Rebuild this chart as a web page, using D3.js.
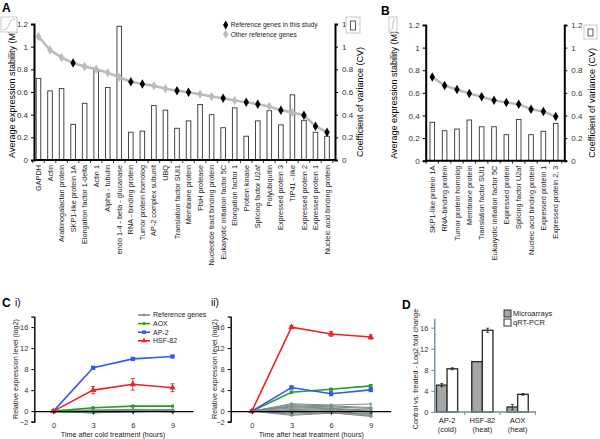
<!DOCTYPE html>
<html>
<head>
<meta charset="utf-8">
<script src="https://cdn.jsdelivr.net/npm/d3@7"></script>
<style>
body { margin: 0; background: #fff; }
text { font-family: "Liberation Sans", Arial, sans-serif; }
</style>
</head>
<body>
<svg id="fig" width="600" height="439"></svg>
<script>
// ---- panel A data
var genesA = ["GAPDH", "Actin", "Arabinogalactan protein", "SKP1-like protein 1A", "Elongation factor 1-delta",
  "Actin 1", "Alpha - tubulin", "endo 1-4 - beta - glucanase", "RNA - binding protein", "Tumor protein homolog",
  "AP-2 complex subunit", "UBQ", "Translation factor SUI1", "Membrane protein", "FtsH protease",
  "Nucleotide tract binding protein", "Eukaryotic initiation factor 5C", "Elongation factor 1", "Protein kinase",
  "Splicing factor U2af", "Polyubiquitin", "Expressed protein 3", "TIP41 - like", "Expressed protein 2",
  "Expressed protein 1", "Nucleic acid binding protein"];
var stabA = [1.09, 0.97, 0.905, 0.855, 0.825, 0.8, 0.77, 0.73, 0.69, 0.67, 0.655, 0.628, 0.612, 0.598, 0.58,
  0.56, 0.545, 0.525, 0.51, 0.492, 0.472, 0.44, 0.42, 0.395, 0.298, 0.245];
var cvA = [0.72, 0.61, 0.63, 0.315, 0.5, 0.8, 0.64, 1.18, 0.245, 0.255, 0.48, 0.44, 0.28, 0.345, 0.49,
  0.4, 0.285, 0.46, 0.21, 0.345, 0.435, 0.31, 0.575, 0.35, 0.245, 0.21];
var inStudyA = [0, 0, 0, 1, 0, 0, 0, 0, 1, 1, 0, 0, 1, 1, 0, 0, 1, 0, 1, 1, 0, 1, 0, 1, 1, 1];

// ---- panel B data
var genesB = ["SKP1-like protein 1A", "RNA-binding protein", "Tumor protein homolog", "Membrane protein",
  "Translation factor SUI1", "Eukaryotic initiation factor 5C", "Expressed protein", "Splicing factor U2af",
  "Nucleic acid binding protein", "Expressed protein 1", "Expressed protein 2, 3"];
var stabB = [0.74, 0.665, 0.63, 0.595, 0.565, 0.535, 0.515, 0.5, 0.455, 0.435, 0.39];
var cvB = [0.34, 0.265, 0.28, 0.36, 0.3, 0.3, 0.23, 0.365, 0.23, 0.26, 0.33];

var stabTicks = [0, 0.2, 0.4, 0.6, 0.8, 1, 1.2];

// ---- panel C data
var hours = [0, 3, 6, 9];
var coldAOX = [0, 0.63, 0.95, 0.95], coldAOXerr = [0, 0.12, 0.12, 0.12];
var coldAP2 = [0, 8.25, 9.95, 10.4], coldAP2err = [0, 0.2, 0.25, 0.2];
var coldHSF = [0, 4.0, 5.1, 4.45], coldHSFerr = [0, 0.7, 1.1, 0.75];
var heatAOX = [0, 3.6, 4.15, 4.8], heatAOXerr = [0, 0.2, 0.2, 0.25];
var heatAP2 = [0, 4.5, 3.3, 4.05], heatAP2err = [0, 0.3, 0.4, 0.35];
var heatHSF = [0, 16.0, 14.7, 14.1], heatHSFerr = [0, 0.3, 0.45, 0.4];
var coldRef = [
  [0, -0.2, 0.1, 0.1], [0, -0.1, 0.2, 0.2], [0, -0.3, 0.0, 0.0], [0, 0.1, 0.3, 0.2],
  [0, -0.2, -0.1, 0.1], [0, 0.0, 0.1, -0.1], [0, -0.15, 0.2, 0.25], [0, 0.05, 0.0, 0.05],
  [0, -0.25, 0.15, -0.05], [0, 0.15, 0.25, 0.15], [0, -0.05, -0.05, 0.0]];
var heatRef = [
  [0, 1.4, 1.15, 1.35], [0, 1.2, 1.0, 0.7], [0, 1.0, 0.8, 0.5], [0, 0.6, 0.5, 0.2],
  [0, 0.3, 0.4, 0.0], [0, 0.1, 0.2, -0.2], [0, -0.2, -0.1, -0.5], [0, -0.4, 0.1, -0.9],
  [0, -0.6, -0.3, -1.0], [0, -0.8, -0.4, -0.6], [0, 0.8, 0.6, -0.1]];
var cTicks = [-2, 0, 4, 8, 12, 16];

// ---- panel D data
var dGroups = ["AP-2|(cold)", "HSF-82|(heat)", "AOX|(heat)"];
var dMicro = [5.1, 9.55, 0.95], dMicroErr = [0.3, 0, 0.5];
var dQrt = [8.2, 15.5, 3.35], dQrtErr = [0.2, 0.4, 0.15];
var dTicks = [0, 4, 8, 12, 16];

var svg = d3.select("#fig");
var fmt = d3.format("~g");
var refCol = "#7f8d8b";

function panelLetter(x, y, t) {
  svg.append("text").attr("x", x).attr("y", y).attr("font-size", 12).attr("font-weight", "bold").text(t);
}

// ========== stability panels (A, B)
function stabilityPanel(o) {
  var g = svg.append("g");
  var x = d3.scaleBand().domain(o.genes).range(o.range);
  var y = d3.scaleLinear().domain([0, 1.2]).range([o.bottom, o.top]);
  var cx = function (d) { return x(d) + x.bandwidth() / 2; };

  // bars (CV)
  g.selectAll("rect.cv").data(o.genes).enter().append("rect")
    .attr("x", d => cx(d) - 2.3).attr("width", 4.6)
    .attr("y", (d, i) => y(o.cv[i])).attr("height", (d, i) => y(0) - y(o.cv[i]))
    .attr("fill", "#fff").attr("stroke", "#333").attr("stroke-width", 0.9);

  // stability line
  var line = d3.line().x((d, i) => cx(o.genes[i])).y(d => y(d));
  g.append("path").datum(o.stab).attr("d", line)
    .attr("fill", "none").attr("stroke", "#bbbbbb").attr("stroke-width", 2.6);
  g.selectAll("path.pt").data(o.stab).enter().append("path")
    .attr("d", d3.symbol(d3.symbolDiamond, 26))
    .attr("transform", (d, i) => "translate(" + cx(o.genes[i]) + "," + y(d) + ")")
    .attr("fill", (d, i) => o.black[i] ? "#000" : "#bbbbbb");

  // axes
  var axL = g.append("g").attr("transform", "translate(" + o.axisX0 + ",0)")
    .call(d3.axisLeft(y).tickValues(stabTicks).tickFormat(fmt).tickSize(3).tickPadding(3));
  var axR = g.append("g").attr("transform", "translate(" + o.axisX1 + ",0)")
    .call(d3.axisRight(y).tickValues(stabTicks).tickFormat(fmt).tickSize(3).tickPadding(4));
  [axL, axR].forEach(function (a) {
    a.select(".domain").attr("stroke-width", 2);
    a.selectAll("text").attr("font-size", 8).attr("fill", "#333").style("font-family", "Liberation Sans, Arial");
  });
  g.append("line").attr("x1", o.axisX0).attr("x2", o.axisX1).attr("y1", y(0)).attr("y2", y(0))
    .attr("stroke", "#000").attr("stroke-width", 2);
  // ticks at band edges
  var edges = o.genes.map(d => x(d)).concat([x(o.genes[o.genes.length - 1]) + x.bandwidth()]);
  g.selectAll("line.tk").data(edges).enter().append("line")
    .attr("x1", d => d).attr("x2", d => d).attr("y1", y(0)).attr("y2", y(0) + 3)
    .attr("stroke", "#000").attr("stroke-width", 0.8);

  // gene labels
  g.selectAll("text.gl").data(o.genes).enter().append("text")
    .attr("transform", d => "translate(" + cx(d) + "," + (y(0) + 5) + ") rotate(-90)")
    .attr("text-anchor", "end").attr("dy", "0.35em")
    .attr("font-size", 7.3).attr("fill", "#222").text(d => d);

  // axis titles
  g.append("text").attr("transform", "translate(" + o.titleL + "," + ((o.top + o.bottom) / 2 + 2) + ") rotate(-90)")
    .attr("text-anchor", "middle").attr("font-size", 9).text("Average expression stability (M)");
  g.append("text").attr("transform", "translate(" + o.titleR + "," + ((o.top + o.bottom) / 2 + 10) + ") rotate(-90)")
    .attr("text-anchor", "middle").attr("font-size", 9).text("Coefficient of variance (CV)");

  // icons
  var ic = o.iconL;
  g.append("rect").attr("x", ic[0]).attr("y", ic[1]).attr("width", ic[2]).attr("height", ic[3])
    .attr("fill", "#fff").attr("stroke", "#bbb").attr("stroke-width", 0.8);
  g.append("path").attr("d", "M" + (ic[0] + 2) + "," + (ic[1] + ic[3] - 2) + " C" + (ic[0] + ic[2] * 0.6) + "," + (ic[1] + ic[3] - 2) +
      " " + (ic[0] + ic[2] * 0.4) + "," + (ic[1] + 2) + " " + (ic[0] + ic[2] - 2) + "," + (ic[1] + 2))
    .attr("fill", "none").attr("stroke", "#aaa").attr("stroke-width", 0.8);
  var ir = o.iconR;
  g.append("rect").attr("x", ir[0]).attr("y", ir[1]).attr("width", ir[2]).attr("height", ir[3])
    .attr("fill", "#fff").attr("stroke", "#bbb").attr("stroke-width", 0.8);
  g.append("rect").attr("x", ir[0] + ir[2] / 2 - 2.5).attr("y", ir[1] + 4).attr("width", 5).attr("height", ir[3] - 7)
    .attr("fill", "#fff").attr("stroke", "#333").attr("stroke-width", 0.8);
  return g;
}

panelLetter(2, 12, "A");
var gA = stabilityPanel({
  genes: genesA, stab: stabA, cv: cvA, black: inStudyA,
  range: [32.7, 332.8], axisX0: 34, axisX1: 335, top: 24, bottom: 160,
  titleL: 15, titleR: 363, iconL: [1, 17, 16, 15], iconR: [346, 17, 14, 16]
});
// legend A
var legA = [["Reference genes in this study", "#000"], ["Other reference genes", "#bbbbbb"]];
gA.selectAll("g.leg").data(legA).enter().append("g")
  .attr("transform", (d, i) => "translate(225.7," + (25 + i * 9.3) + ")")
  .each(function (d) {
    d3.select(this).append("path").attr("d", d3.symbol(d3.symbolDiamond, 24)).attr("fill", d[1]);
    d3.select(this).append("text").attr("x", 5).attr("dy", "0.35em").attr("font-size", 6.6).attr("fill", "#222").text(d[0]);
  });

panelLetter(381, 15, "B");
stabilityPanel({
  genes: genesB, stab: stabB, cv: cvB, black: genesB.map(() => 1),
  range: [426.1, 561.9], axisX0: 425.7, axisX1: 564.3, top: 25, bottom: 160.7,
  titleL: 397, titleR: 595, iconL: [389, 17, 8, 15], iconR: [584, 25, 13, 14]
});

// ========== time course panels (C)
var seriesStyle = [
  { name: "AOX", color: "#22a022", sym: d3.symbolSquare, size: 9 },
  { name: "AP-2", color: "#3557f2", sym: d3.symbolSquare, size: 18 },
  { name: "HSF-82", color: "#ee2222", sym: d3.symbolTriangle, size: 18 }
];

function timePanel(o) {
  var g = svg.append("g");
  var x = d3.scaleLinear().domain(o.xdom).range(o.xr);
  var y = d3.scaleLinear().domain([-2, 18]).range([421.6, 316.6]);
  var line = d3.line().x((d, i) => x(hours[i])).y(d => y(d));

  // reference genes
  o.ref.forEach(function (r) {
    g.append("path").datum(r).attr("d", line).attr("fill", "none")
      .attr("stroke", refCol).attr("stroke-width", o.refW);
    g.selectAll(null).data(r).enter().append("path")
      .attr("d", d3.symbol(d3.symbolCross, 7))
      .attr("transform", (d, i) => "translate(" + x(hours[i]) + "," + y(d) + ")")
      .attr("fill", refCol);
  });

  o.series.forEach(function (s, k) {
    var st = seriesStyle[k];
    var err = o.errs[k];
    g.selectAll(null).data(s).enter().filter((d, i) => err[i] > 0).append("path")
      .attr("d", (d, i) => {
        var j = s.indexOf(d), xx = x(hours[j]), e = err[j];
        return "M" + xx + "," + y(d - e) + "V" + y(d + e) +
          "M" + (xx - 2) + "," + y(d - e) + "h4M" + (xx - 2) + "," + y(d + e) + "h4";
      })
      .attr("stroke", d3.color(st.color).darker(0.6)).attr("stroke-width", 0.8).attr("fill", "none");
    g.append("path").datum(s).attr("d", line).attr("fill", "none")
      .attr("stroke", st.color).attr("stroke-width", 1.6);
    g.selectAll(null).data(s).enter().append("path")
      .attr("d", d3.symbol(st.sym, st.size))
      .attr("transform", (d, i) => "translate(" + x(hours[i]) + "," + y(d) + ")")
      .attr("fill", st.color);
  });

  // axes
  var ay = g.append("g").attr("transform", "translate(" + o.xr[0] + ",0)")
    .call(d3.axisLeft(y).tickValues(cTicks).tickSize(3).tickPadding(3));
  ay.select(".domain").attr("stroke-width", 1.4);
  var ax = g.append("g").attr("transform", "translate(0," + y(0) + ")")
    .call(d3.axisBottom(x).tickValues(hours).tickSize(3).tickPadding(9).tickSizeOuter(0));
  ax.select(".domain").attr("stroke-width", 1.4);
  [ax, ay].forEach(a => a.selectAll("text").attr("font-size", 7.5).attr("fill", "#333").style("font-family", "Liberation Sans, Arial"));

  g.append("text").attr("x", (x(0) + x(9)) / 2).attr("y", 437).attr("text-anchor", "middle")
    .attr("font-size", 7.2).attr("fill", "#222").text(o.xtitle);
  g.append("text").attr("transform", "translate(" + o.ytx + ",369) rotate(-90)")
    .attr("text-anchor", "middle").attr("font-size", 7.2).attr("fill", "#222").text("Relative expression level (log2)");
  g.append("text").attr("x", o.labx).attr("y", 306).attr("font-size", 10).text(o.lab);
  return g;
}

panelLetter(2, 307, "C");
timePanel({
  xdom: [-1.45, 10.55], xr: [34.3, 193], ref: coldRef, refW: 1.6,
  series: [coldAOX, coldAP2, coldHSF], errs: [coldAOXerr, coldAP2err, coldHSFerr],
  xtitle: "Time after cold treatment (hours)", ytx: 18, labx: 15, lab: "i)"
});
timePanel({
  xdom: [-1.6, 10.5], xr: [230.7, 390.6], ref: heatRef, refW: 1.1,
  series: [heatAOX, heatAP2, heatHSF], errs: [heatAOXerr, heatAP2err, heatHSFerr],
  xtitle: "Time after heat treatment (hours)", ytx: 217, labx: 211, lab: "ii)"
});

// legend C
var legC = [{ name: "Reference genes", color: refCol, sym: d3.symbolCross, size: 8 }].concat(seriesStyle);
var lc = svg.append("g").selectAll("g").data(legC).enter().append("g")
  .attr("transform", (d, i) => "translate(138," + (315 + i * 8.6) + ")");
lc.append("line").attr("x1", 0).attr("x2", 12).attr("stroke", d => d.color).attr("stroke-width", 1.6);
lc.append("path").attr("transform", "translate(6,0)").attr("d", d => d3.symbol(d.sym, d.size * 0.7)()).attr("fill", d => d.color);
lc.append("text").attr("x", 15).attr("dy", "0.35em").attr("font-size", 7).attr("fill", "#222").text(d => d.name);

// ========== panel D
panelLetter(402, 309, "D");
(function () {
  var g = svg.append("g");
  var axisCol = "#6d8c97";
  var xb = d3.scaleBand().domain(dGroups).range([429.4, 535.3]);
  var y = d3.scaleLinear().domain([0, 17.8]).range([412, 318.2]);
  var bw = 10.6;
  var cx = d => xb(d) + xb.bandwidth() / 2;
  var bars = [
    { vals: dMicro, errs: dMicroErr, fill: "#a6a6a6", off: -bw },
    { vals: dQrt, errs: dQrtErr, fill: "#fff", off: 0 }
  ];
  bars.forEach(function (b) {
    g.selectAll(null).data(dGroups).enter().append("rect")
      .attr("x", d => cx(d) + b.off).attr("width", bw)
      .attr("y", (d, i) => y(b.vals[i])).attr("height", (d, i) => y(0) - y(b.vals[i]))
      .attr("fill", b.fill).attr("stroke", "#333").attr("stroke-width", 1.4);
    g.selectAll(null).data(dGroups).enter().filter((d, i) => b.errs[i] > 0).append("path")
      .attr("d", d => {
        var i = dGroups.indexOf(d), xx = cx(d) + b.off + bw / 2, v = b.vals[i], e = b.errs[i];
        return "M" + xx + "," + y(v - e) + "V" + y(v + e) + "M" + (xx - 1.5) + "," + y(v - e) + "h3M" + (xx - 1.5) + "," + y(v + e) + "h3";
      })
      .attr("stroke", "#222").attr("stroke-width", 0.8).attr("fill", "none");
  });
  var ay = g.append("g").attr("transform", "translate(434.3,0)")
    .call(d3.axisLeft(y).tickValues(dTicks).tickSize(3).tickPadding(3).tickSizeOuter(0));
  ay.select(".domain").attr("stroke", axisCol).attr("stroke-width", 1.4);
  ay.selectAll("line").attr("stroke", axisCol);
  ay.selectAll("text").attr("font-size", 7.5).attr("fill", "#333").style("font-family", "Liberation Sans, Arial");
  g.append("line").attr("x1", 434.3).attr("x2", 536).attr("y1", y(0)).attr("y2", y(0))
    .attr("stroke", axisCol).attr("stroke-width", 1.4);
  var edges = dGroups.map(d => xb(d)).slice(1).concat([535.3]);
  g.selectAll("line.tk").data(edges).enter().append("line")
    .attr("x1", d => d).attr("x2", d => d).attr("y1", y(0)).attr("y2", y(0) + 3)
    .attr("stroke", axisCol).attr("stroke-width", 1);
  var lab = g.selectAll("text.gl").data(dGroups).enter().append("text")
    .attr("text-anchor", "middle").attr("font-size", 7.5).attr("fill", "#222");
  lab.append("tspan").attr("x", cx).attr("y", 422.5).text(d => d.split("|")[0]);
  lab.append("tspan").attr("x", cx).attr("y", 432).text(d => d.split("|")[1]);
  g.append("text").attr("transform", "translate(418,369) rotate(-90)")
    .attr("text-anchor", "middle").attr("font-size", 7.2).attr("fill", "#222").text("Control vs. treated - Log2 fold change");
  // legend
  var leg = g.selectAll("g.lg").data([["Microarrays", "#a6a6a6"], ["qRT-PCR", "#fff"]]).enter().append("g")
    .attr("transform", (d, i) => "translate(504," + (310 + i * 9) + ")");
  leg.append("rect").attr("width", 7).attr("height", 7).attr("fill", d => d[1]).attr("stroke", "#333").attr("stroke-width", 1);
  leg.append("text").attr("x", 9).attr("y", 3.5).attr("dy", "0.35em").attr("font-size", 7.5).attr("fill", "#222").text(d => d[0]);
})();
</script>
</body>
</html>
